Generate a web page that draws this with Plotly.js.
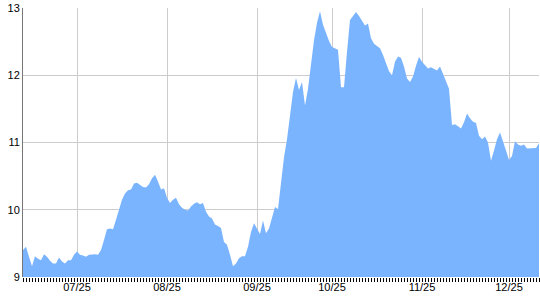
<!DOCTYPE html>
<html>
<head>
<meta charset="utf-8">
<script src="https://cdn.plot.ly/plotly-3.0.1.min.js"></script>
<style>
html,body{margin:0;padding:0;background:#fff;}
#chart{width:540px;height:300px;}
</style>
</head>
<body>
<div id="chart"></div>
<script>
// Daily values (one per trading point)
const values = [
  9.40, 9.45, 9.30, 9.16, 9.31, 9.27, 9.25, 9.34, 9.30, 9.24,
  9.20, 9.20, 9.29, 9.23, 9.20, 9.25, 9.25, 9.33, 9.38, 9.33,
  9.32, 9.30, 9.33, 9.34, 9.34, 9.33, 9.40, 9.55, 9.71, 9.72,
  9.71, 9.85, 10.00, 10.15, 10.24, 10.29, 10.30, 10.39, 10.40, 10.37,
  10.34, 10.33, 10.38, 10.47, 10.52, 10.42, 10.30, 10.32, 10.18, 10.10,
  10.15, 10.18, 10.08, 10.03, 10.00, 9.99, 10.05, 10.09, 10.11, 10.08,
  10.10, 9.97, 9.90, 9.87, 9.78, 9.76, 9.73, 9.52, 9.48, 9.33,
  9.16, 9.20, 9.28, 9.31, 9.31, 9.45, 9.67, 9.80, 9.72, 9.64,
  9.84, 9.65, 9.72, 9.88, 10.04, 10.01, 10.40, 10.78, 11.05, 11.45,
  11.75, 11.96, 11.78, 11.90, 11.55, 11.80, 12.20, 12.52, 12.78, 12.95,
  12.75, 12.62, 12.51, 12.42, 12.40, 12.38, 11.82, 11.82, 12.35, 12.82,
  12.88, 12.94, 12.88, 12.80, 12.74, 12.77, 12.55, 12.47, 12.43, 12.40,
  12.30, 12.18, 12.06, 12.00, 12.20, 12.28, 12.26, 12.13, 11.95, 11.90,
  11.98, 12.14, 12.27, 12.20, 12.15, 12.10, 12.12, 12.09, 12.07, 12.13,
  12.02, 11.92, 11.80, 11.26, 11.27, 11.24, 11.21, 11.30, 11.43, 11.36,
  11.31, 11.29, 11.10, 11.05, 11.09, 11.00, 10.73, 10.88, 11.05, 11.15,
  11.00, 10.88, 10.74, 10.80, 11.02, 10.97, 10.95, 10.97, 10.91, 10.91,
  10.92, 10.92, 10.99
];
// Tick label positions (point index) and texts
const tickIdx = [18, 48, 78, 103, 133, 162];
const tickText = ['07/25', '08/25', '09/25', '10/25', '11/25', '12/25'];
const yTicks = [9, 10, 11, 12, 13];

const trace = {
  y: values,
  type: 'scatter',
  mode: 'lines',
  fill: 'tozeroy',
  fillcolor: 'rgb(122,180,255)',
  line: {width: 0, color: 'rgb(122,180,255)'},
  hoverinfo: 'skip'
};

const layout = {
  width: 540, height: 300,
  margin: {l: 23, r: 1, t: 8, b: 23, pad: 0},
  paper_bgcolor: '#fff', plot_bgcolor: '#fff',
  showlegend: false,
  font: {family: 'Arial, "Liberation Sans", sans-serif', size: 11, color: '#000'},
  xaxis: {
    range: [0, values.length - 1],
    tickmode: 'array', tickvals: tickIdx, ticktext: tickText,
    ticks: 'outside', ticklen: 4, tickcolor: '#000', tickwidth: 1,
    ticklabelstandoff: -4,
    showgrid: true, gridcolor: '#cccccc', gridwidth: 1,
    showline: false, zeroline: false,
    minor: {dtick: 1, tick0: 0, ticks: 'outside', ticklen: 4, tickcolor: '#000', tickwidth: 1, showgrid: false},
    fixedrange: true
  },
  yaxis: {
    range: [9, 13],
    tickmode: 'array', tickvals: yTicks, ticktext: yTicks.map(String),
    ticks: '', showgrid: true, gridcolor: '#cccccc', gridwidth: 1,
    showline: true, linecolor: '#777', linewidth: 1,
    zeroline: false, ticklabelstandoff: 0,
    fixedrange: true
  }
};

Plotly.newPlot('chart', [trace], layout, {displayModeBar: false, staticPlot: true});
</script>
</body>
</html>
